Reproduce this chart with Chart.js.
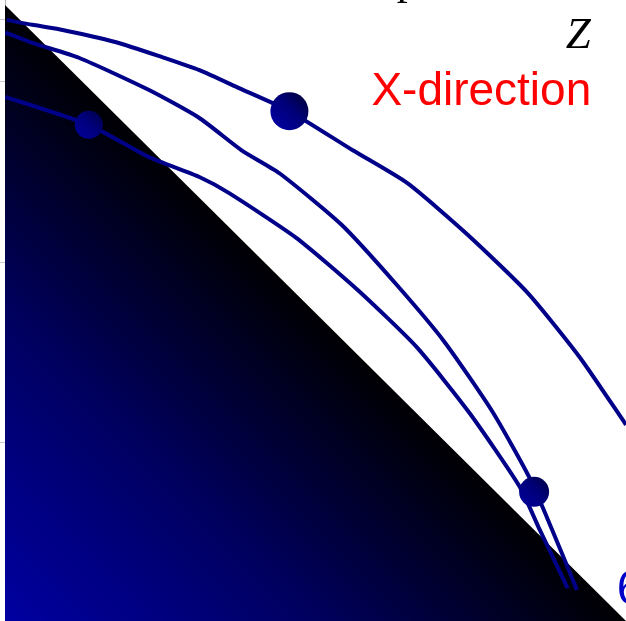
<!DOCTYPE html>
<html>
<head>
<meta charset="utf-8">
<script src="https://cdn.jsdelivr.net/npm/chart.js@4.4.1/dist/chart.umd.min.js"></script>
<style>
  html, body { margin: 0; padding: 0; background: #fff; }
  #wrap { width: 626px; height: 621px; overflow: hidden; }
</style>
</head>
<body>
<div id="wrap"><canvas id="paths" width="626" height="621"></canvas></div>
<script>
// shaded wedge: its sloping edge, from the top vertex down to the lower right corner
const wedgeX = [0, 10];
const wedgeY = [9.92, 0];

// outer path
const pathAX = [0.03, 0.44, 0.87, 1.79, 2.53, 3.13, 3.77, 4.58, 5.6, 6.48, 7.45, 8.42, 9.26, 10.0];
const pathAY = [9.68, 9.6, 9.53, 9.32, 9.08, 8.87, 8.58, 8.21, 7.58, 7.05, 6.22, 5.28, 4.24, 3.16];

// middle path
const pathBX = [0, 0.44, 1.19, 2.32, 3.13, 3.81, 4.42, 5.42, 6.31, 7.08, 7.85, 8.45, 8.81, 9.21];
const pathBY = [9.48, 9.31, 9.07, 8.55, 8.1, 7.58, 7.21, 6.38, 5.41, 4.49, 3.37, 2.3, 1.47, 0.5];

// inner path
const pathCX = [0, 1.35, 2.32, 3.13, 3.61, 4.69, 5.68, 6.63, 7.48, 8.29, 8.61, 9.06];
const pathCY = [8.44, 7.99, 7.47, 7.15, 6.89, 6.17, 5.33, 4.41, 3.35, 2.16, 1.47, 0.53];

// markers sitting on the paths (outer, inner, middle)
const markerX = [4.58, 1.35, 8.52];
const markerY = [8.21, 7.99, 2.08];

// left axis tick values
const axisTicks = [2.88, 5.78, 8.68, 9.68];

const labelTexts = ['Z', 'X-direction', '6', 'p'];
const labelX = [9.23, 5.9, 9.85, 6.31];
const labelY = [9.23, 8.31, 0.27, 10.1];

const zip = (xs, ys) => xs.map((x, i) => ({ x, y: ys[i] }));

const labelStyles = [
  { font: 'italic 45px "Liberation Serif", "DejaVu Serif", serif', color: '#000', align: 'center' },
  { font: '46px "Liberation Sans", Arial, sans-serif', color: '#ff0000', align: 'left' },
  { font: '48px "Liberation Sans", Arial, sans-serif', color: '#0000c8', align: 'left' },
  { font: '44px "Liberation Serif", "DejaVu Serif", serif', color: '#000', align: 'left' },
];

const labelsPlugin = {
  id: 'labels',
  afterDatasetsDraw(chart) {
    const { ctx, scales } = chart;
    ctx.save();
    labelTexts.forEach((text, i) => {
      const style = labelStyles[i];
      ctx.font = style.font;
      ctx.fillStyle = style.color;
      ctx.textAlign = style.align;
      ctx.textBaseline = 'alphabetic';
      ctx.fillText(text, scales.x.getPixelForValue(labelX[i]), scales.y.getPixelForValue(labelY[i]));
    });
    ctx.restore();
  },
};

function wedgeFill(context) {
  const { ctx, chartArea } = context.chart;
  if (!chartArea) return '#000060';
  const { left, right, top, bottom } = chartArea;
  const g = ctx.createLinearGradient(left, bottom, (left + right) / 2, (top + bottom) / 2);
  g.addColorStop(0, 'rgb(0,0,162)');
  g.addColorStop(0.5, 'rgb(0,0,95)');
  g.addColorStop(1, 'rgb(0,0,2)');
  return g;
}

function markerFill(context) {
  const chart = context.chart;
  if (!chart.chartArea || context.dataIndex === undefined) return '#000090';
  const raw = context.raw;
  const px = chart.scales.x.getPixelForValue(raw.x);
  const py = chart.scales.y.getPixelForValue(raw.y);
  const r = 19;
  const g = chart.ctx.createLinearGradient(px - r, py + r, px + r, py - r);
  g.addColorStop(0, 'rgb(0,0,170)');
  g.addColorStop(0.55, 'rgb(0,0,120)');
  g.addColorStop(1, 'rgb(0,0,45)');
  return g;
}

const pathStyle = {
  type: 'line',
  borderColor: '#000088',
  borderWidth: 4,
  pointRadius: 0,
  tension: 0.2,
  fill: false,
  order: 2,
};

new Chart(document.getElementById('paths'), {
  type: 'scatter',
  data: {
    datasets: [
      {
        data: zip(markerX, markerY),
        pointRadius: [19, 14, 15],
        pointBackgroundColor: markerFill,
        pointBorderWidth: 0,
        showLine: false,
        order: 1,
      },
      { ...pathStyle, data: zip(pathAX, pathAY) },
      { ...pathStyle, data: zip(pathBX, pathBY) },
      { ...pathStyle, data: zip(pathCX, pathCY) },
      {
        type: 'line',
        data: zip(wedgeX, wedgeY),
        borderWidth: 0,
        pointRadius: 0,
        fill: 'start',
        backgroundColor: wedgeFill,
        order: 3,
      },
    ],
  },
  options: {
    responsive: false,
    animation: false,
    devicePixelRatio: 1,
    layout: { padding: 0, autoPadding: false },
    plugins: {
      legend: { display: false },
      tooltip: { enabled: false },
    },
    scales: {
      x: {
        type: 'linear',
        min: 0,
        max: 10,
        display: false,
      },
      y: {
        type: 'linear',
        min: 0,
        max: 10,
        afterBuildTicks: (axis) => {
          axis.ticks = axisTicks.map((value) => ({ value }));
        },
        ticks: { display: false },
        grid: {
          drawOnChartArea: false,
          drawTicks: true,
          tickLength: 5,
          color: '#c8c8c8',
        },
        border: { display: true, color: '#b4b4b4', width: 1 },
      },
    },
  },
  plugins: [labelsPlugin],
});
</script>
</body>
</html>
